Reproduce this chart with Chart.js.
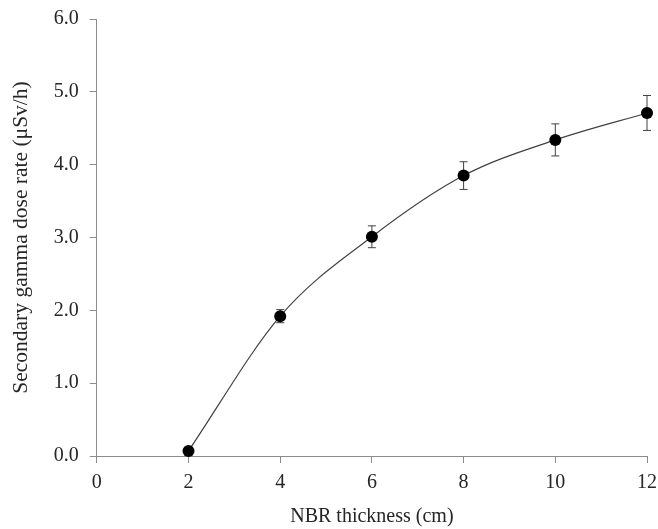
<!DOCTYPE html>
<html>
<head>
<meta charset="utf-8">
<script src="https://cdn.jsdelivr.net/npm/chart.js@4/dist/chart.umd.min.js"></script>
<style>
  html, body { margin: 0; padding: 0; background: #fff; }
  #wrap { width: 658px; height: 529px; position: relative; }
</style>
</head>
<body>
<div id="wrap"><canvas id="chart"></canvas></div>
<script>
// NBR thickness (cm) vs secondary gamma dose rate (µSv/h)
const thickness = [2, 4, 6, 8, 10, 12];
const doseRate = [0.07, 1.92, 3.01, 3.85, 4.34, 4.71];
const doseError = [0.03, 0.09, 0.15, 0.19, 0.22, 0.24];

const axisColor = '#8c8c8c';
const textColor = '#262626';
const fontFamily = '"Liberation Serif", "Times New Roman", serif';

// draws vertical error bars with caps, under the points
const errorBars = {
    id: 'errorBars',
    beforeDatasetsDraw(chart) {
        const ctx = chart.ctx;
        const xs = chart.scales.x, ys = chart.scales.y;
        ctx.save();
        ctx.strokeStyle = '#404040';
        ctx.lineWidth = 1;
        thickness.forEach((t, i) => {
            const px = xs.getPixelForValue(t);
            const top = ys.getPixelForValue(doseRate[i] + doseError[i]);
            const bot = ys.getPixelForValue(doseRate[i] - doseError[i]);
            ctx.beginPath();
            ctx.moveTo(px, top); ctx.lineTo(px, bot);
            ctx.moveTo(px - 4, top); ctx.lineTo(px + 4, top);
            ctx.moveTo(px - 4, bot); ctx.lineTo(px + 4, bot);
            ctx.stroke();
        });
        ctx.restore();
    }
};

new Chart(document.getElementById('chart'), {
    type: 'scatter',
    data: {
        datasets: [{
            data: thickness.map((t, i) => ({ x: t, y: doseRate[i] })),
            showLine: true,
            cubicInterpolationMode: 'monotone',
            borderColor: '#404040',
            borderWidth: 1.2,
            pointRadius: 6,
            pointBackgroundColor: '#000',
            pointBorderColor: '#000',
            pointBorderWidth: 0,
            clip: false
        }]
    },
    options: {
        responsive: true,
        maintainAspectRatio: false,
        animation: false,
        layout: { padding: { top: 0, right: 0, bottom: 0, left: 6 } },
        plugins: { legend: { display: false }, tooltip: { enabled: false } },
        scales: {
            x: {
                type: 'linear',
                min: 0, max: 12,
                afterFit: scale => { scale.paddingRight = 11; },
                ticks: {
                    stepSize: 2,
                    color: textColor,
                    padding: 8,
                    font: { family: fontFamily, size: 20 }
                },
                grid: { drawOnChartArea: false, tickLength: 7, color: axisColor },
                border: { color: axisColor, width: 1 },
                title: {
                    display: true,
                    text: 'NBR thickness (cm)',
                    color: textColor,
                    padding: { top: 2, bottom: 0 },
                    font: { family: fontFamily, size: 20 }
                }
            },
            y: {
                min: 0, max: 6,
                afterFit: scale => { scale.paddingTop = 19; },
                ticks: {
                    stepSize: 1,
                    color: textColor,
                    padding: 11,
                    callback: v => v.toFixed(1),
                    font: { family: fontFamily, size: 20 }
                },
                grid: { drawOnChartArea: false, tickLength: 7, color: axisColor },
                border: { color: axisColor, width: 1 },
                title: {
                    display: true,
                    text: 'Secondary gamma dose rate (μSv/h)',
                    color: textColor,
                    padding: { top: 2, bottom: 9 },
                    font: { family: fontFamily, size: 21.5 }
                }
            }
        }
    },
    plugins: [errorBars]
});
</script>
</body>
</html>
